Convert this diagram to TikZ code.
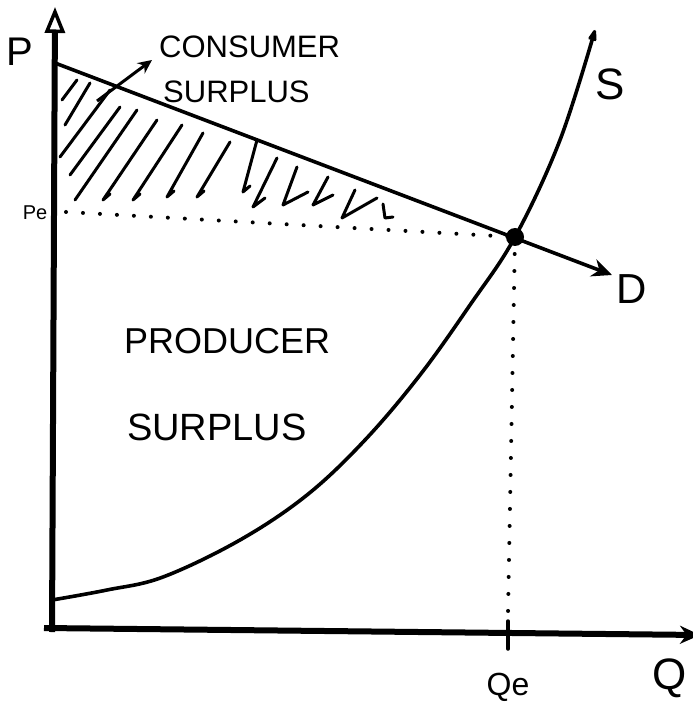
\documentclass[tikz,border=0pt]{standalone}
\usepackage{fontspec}
\setmainfont{Liberation Sans}
\usetikzlibrary{arrows.meta,calc}
\begin{document}
\begin{tikzpicture}[x=1pt,y=-1pt,
  axisline/.style={line width=6pt},
  curveline/.style={line width=3.6pt},
  dots/.style={line width=4pt,dash pattern=on 0pt off 17pt,line cap=round},
  hatch/.style={line width=3pt,line cap=round,line join=round},
  lbl/.style={font=\fontsize{44}{44}\selectfont,inner sep=0pt},
  mid/.style={font=\fontsize{31}{31}\selectfont,inner sep=0pt},
  big/.style={font=\fontsize{36}{36}\selectfont,inner sep=0pt}]
\useasboundingbox (0,0) rectangle (692,708);
% key points
\coordinate (O) at (52,632);
\coordinate (Ytop) at (55,7);
\coordinate (Xstart) at (44,628);
\coordinate (Xend) at (700,635);
\coordinate (Dstart) at (55,63);
\coordinate (E) at (515,237);
\coordinate (Dend) at (612,275);
\coordinate (Pe) at (66,212);
\coordinate (Qe) at (508,633);
\coordinate (Sstart) at (52,600);
\coordinate (Send) at (595,30);
% axes
\draw[axisline,-{Triangle[open,length=26pt,width=20pt,line width=3.5pt]}] (O) -- (Ytop);
\draw[axisline,-{Stealth[length=20pt,width=18pt]}] (Xstart) -- (Xend);
% tick at Qe
\draw[line width=3.5pt,line cap=round] ($(Qe)+(0,-12)$) -- ($(Qe)+(0,16)$);
% dotted guides
\draw[dots] (Pe) -- (E);
\draw[dots] (E) -- ($(Qe)+(0,-20)$);
% demand
\draw[curveline,-{Stealth[length=20pt,width=18pt]}] (Dstart) -- (Dend);
% supply
\draw[curveline,-{Stealth[length=18pt,width=12pt,round]}] plot[smooth,tension=0.6] coordinates {(Sstart) (107,590) (163,577) (240,540) (307,495) (365,440) (420,375) (470,305) (E) (560,140) (Send)};
\fill (E) circle (9pt);
% hatching
\foreach \a/\b/\c/\d in {62/100/77/80, 65/125/90/83, 60/157/110/90, 70/175/120/107, 75/200/137/110}
  \draw[hatch] (\a,\b) -- (\c,\d);
\foreach \a/\b/\c/\d in {157/120/103/200, 182/125/133/200, 203/133/167/197, 230/142/197/197, 257/140/243/192}
  \draw[hatch] (\c,\d) -- (\a,\b) (\c,\d) -- ++(7,-6);
\draw[hatch] (277,158) -- (253,207) -- (265,198);
\draw[hatch] (297,167) -- (283,205) -- (308,192);
\draw[hatch] (328,177) -- (313,205) -- (333,195);
\draw[hatch] (355,190) -- (342,218) -- (377,198);
\draw[hatch] (383,204) -- (385,218) -- (393,217);
% consumer surplus arrow
\coordinate (CSa) at (97,101);
\coordinate (CSb) at (152,60);
\draw[line width=3pt,-{Stealth[length=14pt,width=13pt]}] (CSa) -- (CSb);
% labels
\node[font=\fontsize{40}{40}\selectfont,inner sep=0pt] (Plbl) at (20,52) {P};
\node[font=\fontsize{20}{20}\selectfont,inner sep=0pt] (Pelbl) at (35,213) {Pe};
\node[lbl] (Slbl) at (610,84) {S};
\node[font=\fontsize{42}{42}\selectfont,inner sep=0pt] (Dlbl) at (632,289) {D};
\node[font=\fontsize{32}{32}\selectfont,inner sep=0pt] (Qelbl) at (508,687) {Qe};
\node[lbl] (Qlbl) at (670,678) {Q};
\node[mid,anchor=base west] (CS1) at (159,58) {CONSUMER};
\node[mid,anchor=base west] (CS2) at (163,103) {SURPLUS};
\node[big,anchor=base west] (PS1) at (124,353) {PRODUCER};
\node[big,anchor=base west,font=\fontsize{38}{38}\selectfont] (PS2) at (127,440) {SURPLUS};
\end{tikzpicture}
\end{document}
